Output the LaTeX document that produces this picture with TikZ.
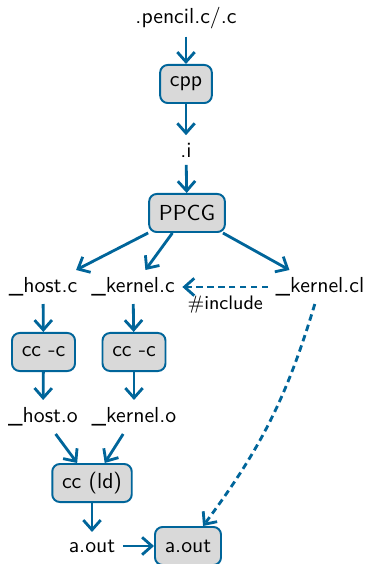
\documentclass[tikz,border=0pt]{standalone}
\usepackage{tikz}
\usetikzlibrary{arrows.meta}
\renewcommand{\familydefault}{\sfdefault}
\definecolor{flowblue}{RGB}{0,101,154}

\begin{document}
\begin{tikzpicture}[x=0.46pt,y=-0.46pt,
    every node/.style={font=\sffamily},
    tool/.style={draw=flowblue,fill=black!15,line width=0.9pt,
      rounded corners=3.5pt,minimum height=17.5pt,inner xsep=4.5pt},
    flow/.style={flowblue,line width=1.3pt,
      -{Straight Barb[length=4.5pt,width=8pt]}},
    incl/.style={flow,dash pattern=on 3pt off 2pt}]
  \useasboundingbox (0,0) rectangle (366,564);

  % front end
  \node (src) at (186,18) {.pencil.c/.c};
  \node[tool] (cpp) at (186,84) {cpp};
  \node (pre) at (186,150) {.i};
  \node[tool] (ppcg) at (187,213) {PPCG};

  % generated files
  \node (hostc) at (43,287) {\_host.c};
  \node (kernc) at (133,287) {\_kernel.c};
  \node (kerncl) at (320,287) {\_kernel.cl};

  % compile and link
  \node[tool] (cchost) at (43.5,352) {cc -c};
  \node[tool] (cckern) at (134,352) {cc -c};
  \node (hosto) at (43,417) {\_host.o};
  \node (kerno) at (134,417) {\_kernel.o};
  \node[tool] (ld) at (92,483) {cc (ld)};
  \node (aout) at (92,546) {a.out};
  \node[tool] (run) at (188,546) {a.out};

  \draw[flow] (src) -- (cpp);
  \draw[flow] (cpp) -- (pre);
  \draw[flow] (pre) -- (ppcg);
  \foreach \f in {hostc,kernc,kerncl}
    \draw[flow] (ppcg) -- (\f);
  \draw[incl] (kerncl) -- (kernc)
    node[midway,below,black,font=\small] {$\#$include};
  \draw[flow] (hostc) -- (cchost);
  \draw[flow] (kernc) -- (cckern);
  \draw[flow] (cchost) -- (hosto);
  \draw[flow] (cckern) -- (kerno);
  \draw[flow] (hosto) -- (ld);
  \draw[flow] (kerno) -- (ld);
  \draw[flow] (ld) -- (aout);
  \draw[flow] (aout) -- (run);
  \draw[incl] (kerncl) to[bend left=10] (run);
\end{tikzpicture}
\end{document}
